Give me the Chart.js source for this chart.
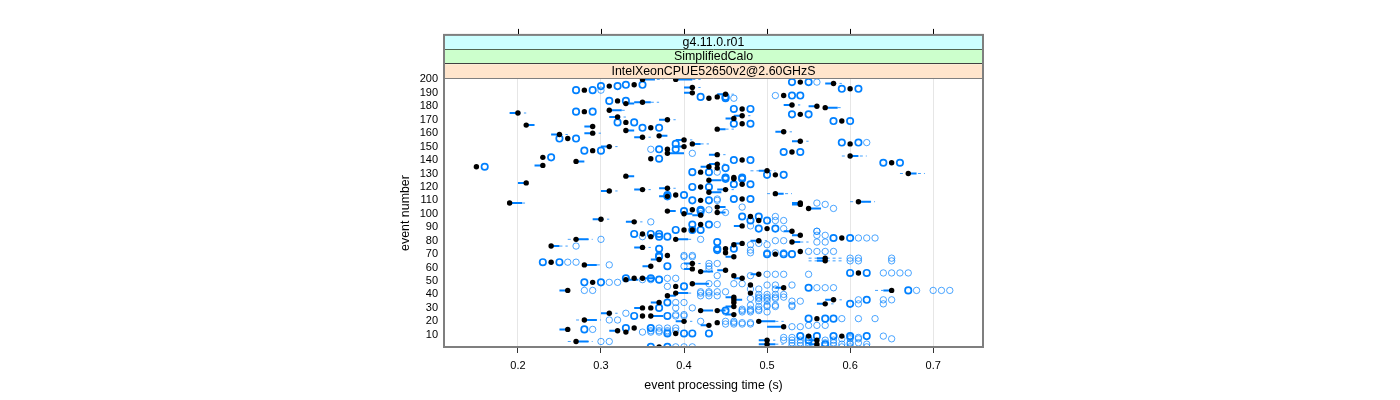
<!DOCTYPE html>
<html>
<head>
<meta charset="utf-8">
<title>event processing time</title>
<script src="https://cdn.jsdelivr.net/npm/chart.js@4/dist/chart.umd.js"></script>
<style>
  html, body { margin: 0; padding: 0; background: #fff; }
  canvas { display: block; }
</style>
</head>
<body>
<canvas id="timeChart" width="1400" height="400"></canvas>
<script>
// Strip labels, top to bottom
const stripLabels = ['g4.11.0.r01', 'SimplifiedCalo', 'IntelXeonCPUE52650v2@2.60GHzS'];
const xTicks = [0.2, 0.3, 0.4, 0.5, 0.6, 0.7];

// [event, median]
const medians = [
  [200,.35],[200,.39],[198,.54],[197,.58],[196,.34],[195,.31],[194,.41],[193,.60],[192,.28],[190,.41],
  [189,.45],[188,.52],[187,.44],[186,.43],[184,.32],[183,.35],[182,.33],[181,.53],[180,.56],[179,.57],
  [178,.47],[177,.31],[176,.28],[175,.20],[174,.54],[173,.47],[172,.32],[171,.46],[170,.38],[169,.59],
  [168,.33],[167,.47],[166,.21],[165,.29],[164,.36],[163,.44],[162,.33],[161,.52],[160,.29],[159,.25],
  [158,.37],[157,.35],[156,.26],[155,.40],[154,.54],[152,.60],[152,.41],[150,.31],[150,.40],[148,.38],
  [147,.29],[146,.53],[145,.38],[144,.44],[143,.60],[142,.23],[141,.36],[140,.47],[139,.27],[138,.65],
  [137,.44],[136,.23],[135,.15],[135,.43],[134,.44],[132,.50],[131,.42],[130,.67],[129,.51],[128,.33],
  [127,.46],[126,.46],[125,.43],[123,.21],[122,.47],[120,.42],[119,.38],[118,.35],[118,.45],[117,.31],
  [116,.43],[115,.51],[114,.39],[113,.38],[111,.47],[110,.42],[109,.61],[108,.19],[108,.54],[107,.54],
  [105,.44],[104,.55],[103,.41],[102,.38],[101,.44],[100,.40],[99,.42],[98,.48],[96,.30],[95,.49],
  [94,.34],[92,.42],[91,.47],[89,.50],[88,.41],[88,.40],[87,.53],[85,.35],[84,.54],[83,.36],
  [82,.59],[81,.27],[81,.39],[80,.49],[79,.53],[78,.47],[77,.46],[76,.24],[75,.35],[74,.45],
  [72,.54],[71,.45],[70,.51],[69,.38],[68,.46],[67,.57],[66,.37],[65,.57],[64,.24],[63,.41],
  [62,.28],[61,.36],[59,.41],[58,.45],[57,.42],[56,.61],[55,.49],[54,.46],[52,.34],[52,.35],
  [52,.47],[51,.33],[49,.29],[48,.41],[47,.48],[46,.39],[45,.52],[43,.26],[43,.65],[41,.39],
  [41,.48],[39,.38],[38,.46],[36,.46],[36,.58],[34,.46],[34,.37],[33,.57],[31,.46],[30,.35],
  [30,.36],[28,.42],[28,.44],[26,.31],[25,.46],[24,.35],[24,.36],[22,.56],[21,.28],[20,.40],
  [20,.49],[19,.44],[17,.43],[16,.52],[15,.34],[14,.26],[13,.32],[12,.33],[11,.39],[9,.55],
  [9,.59],[6,.50],[6,.56],[5,.27],[3,.50],[3,.56],[1,.56],[1,.37]
];

// [event, box low, box high]
const boxes = [
  [200,.35,.365],[200,.39,.41],[197,.57,.58],[194,.40,.41],[190,.40,.41],[189,.44,.45],[183,.34,.36],[182,.33,.34],
  [181,.52,.53],[180,.55,.56],[179,.57,.585],[177,.31,.325],[175,.19,.20],[173,.46,.47],[172,.31,.32],[171,.45,.46],
  [170,.37,.38],[166,.21,.22],[165,.28,.29],[163,.44,.45],[162,.33,.34],[161,.51,.52],[160,.28,.29],[159,.24,.25],
  [158,.37,.38],[157,.34,.35],[155,.39,.40],[154,.53,.54],[152,.41,.42],[150,.30,.31],[150,.39,.40],[145,.38,.40],
  [144,.43,.44],[143,.60,.61],[139,.27,.28],[137,.43,.44],[136,.22,.23],[135,.42,.43],[132,.49,.50],[130,.67,.68],
  [128,.33,.34],[125,.43,.445],[123,.20,.21],[119,.37,.38],[118,.34,.35],[118,.44,.45],[117,.30,.31],[116,.43,.445],
  [115,.51,.52],[113,.37,.38],[109,.61,.625],[108,.19,.205],[108,.53,.54],[107,.53,.54],[105,.44,.45],[104,.55,.565],
  [102,.38,.39],[101,.44,.45],[100,.40,.41],[99,.41,.42],[96,.29,.30],[94,.33,.34],[91,.46,.47],[87,.52,.53],
  [84,.53,.54],[81,.27,.285],[81,.39,.405],[80,.48,.49],[79,.53,.54],[78,.46,.47],[76,.24,.25],[75,.34,.35],
  [68,.45,.46],[67,.56,.57],[66,.36,.37],[65,.56,.57],[63,.40,.41],[62,.28,.295],[61,.35,.36],[59,.40,.41],
  [58,.44,.45],[57,.42,.435],[55,.48,.49],[52,.35,.365],[52,.46,.47],[51,.33,.345],[48,.41,.43],[45,.51,.52],
  [43,.25,.26],[43,.64,.65],[41,.39,.405],[39,.38,.39],[38,.45,.46],[36,.46,.47],[36,.57,.58],[34,.36,.37],
  [33,.56,.57],[31,.45,.46],[30,.34,.35],[28,.42,.435],[28,.44,.45],[26,.30,.31],[25,.45,.46],[24,.36,.375],
  [21,.28,.295],[20,.39,.40],[20,.49,.51],[17,.42,.43],[16,.50,.52],[14,.25,.26],[13,.31,.32],[6,.49,.50],
  [6,.55,.56],[5,.27,.285],[3,.49,.51],[3,.55,.56]
];

// [event, whisker low, whisker high]
const whiskers = [
  [200,.36,.375],[200,.41,.42],[197,.58,.59],[194,.41,.42],[189,.45,.46],[183,.36,.37],[181,.53,.54],[179,.585,.59],
  [177,.325,.33],[175,.20,.21],[173,.47,.48],[172,.32,.33],[170,.38,.39],[163,.45,.46],[161,.52,.53],[160,.29,.30],
  [159,.25,.26],[157,.35,.36],[155,.40,.41],[154,.54,.55],[152,.42,.43],[150,.31,.32],[144,.44,.45],[143,.59,.62],
  [137,.44,.45],[132,.48,.51],[130,.66,.69],[125,.445,.45],[119,.38,.39],[118,.35,.36],[118,.45,.46],[117,.31,.32],
  [115,.50,.53],[109,.60,.63],[108,.205,.21],[96,.30,.31],[94,.34,.35],[81,.26,.29],[81,.405,.41],[80,.49,.50],
  [79,.54,.55],[76,.25,.26],[75,.35,.36],[67,.55,.59],[65,.55,.59],[63,.41,.42],[62,.295,.30],[41,.405,.41],
  [36,.58,.59],[33,.57,.58],[26,.31,.32],[21,.27,.30],[20,.40,.41],[20,.51,.52],[5,.26,.29],[6,.50,.51],
  [3,.51,.52],[43,.63,.64]
];

// [event, ...times] outliers that repeat, so they look solid
const solidOutliers = [
  [198,.53,.55],[196,.33,.35],[195,.30,.32],[193,.59,.61],[192,.27,.29],[188,.53,.54],[187,.42,.45],[186,.45],
  [184,.31,.33],[178,.46,.48],[176,.27,.29],[174,.53,.55],[169,.58,.60],[168,.32,.34],[167,.46,.48],[164,.35,.37],
  [156,.25,.27],[153,.59,.61],[152,.39],[148,.37,.39],[147,.28,.30],[146,.52,.54],[142,.24],[141,.37],
  [140,.46,.48],[138,.64,.66],[135,.16],[134,.45],[131,.41,.43],[129,.50,.52],[127,.45,.47],[126,.45,.47],[122,.46,.48],
  [120,.41,.43],[114,.38,.40],[113,.38],[111,.46,.48],[110,.41,.43],[103,.42],[102,.40,.42],[98,.47,.49],
  [95,.48,.50],[92,.41,.43],[89,.49,.51],[88,.39,.41,.42],[85,.34,.36,.37],[83,.37,.38],[82,.58,.60],[79,.44],
  [74,.44,.46],[74,.37],[73,.44],[70,.50,.52,.53],[69,.37],[68,.37],[64,.23,.25],[61,.38],
  [56,.60,.62],[52,.33,.36],[51,.37],[49,.28,.30],[46,.40],[45,.55],[43,.67],[36,.62],
  [33,.60],[34,.38],[30,.37],[28,.45],[24,.34,.38],[22,.55,.57,.58],[15,.33,.36],[14,.28],
  [11,.38,.40,.41,.43],[9,.54,.56,.58,.60],[9,.62],[6,.55],[1,.36,.38],[3,.57]
];

// [event, ...times] single outliers, drawn lighter
const lightOutliers = [
  [198,.56],[192,.30],[188,.51],[186,.46],[153,.62],[148,.36],[145,.41],[131,.44],[111,.44],[110,.44],
  [108,.56],[107,.57],[105,.47],[104,.58],[103,.43],[101,.45],[100,.42],[98,.51],[95,.51,.52],[94,.36],
  [92,.44],[91,.48],[89,.52],[87,.56],[87,.56],[84,.56,.57],[83,.35],[82,.61,.62,.63],[81,.30],[81,.42],
  [80,.51,.52],[79,.56,.57],[78,.49],[77,.48,.50],[76,.27],[73,.48],[72,.55,.56,.57,.58],[71,.50,.51,.52],[71,.48],[69,.40,.41],
  [68,.40,.41],[67,.60,.61,.65],[65,.60,.61,.65],[64,.26,.27],[63,.43,.44],[62,.31],[61,.40,.43],[59,.43],[56,.64,.65,.66,.67],[55,.50,.51,.52,.55],
  [54,.44,.48],[52,.38,.39],[51,.35,.36,.37],[49,.31,.32],[48,.43,.44,.46,.47],[47,.50,.51,.53],[46,.38],[45,.56,.57,.58],[44,.48,.49,.51],[43,.68,.70,.71,.72],
  [43,.28,.29],[42,.42,.43,.44,.45],[41,.42,.43],[40,.49,.50,.51,.52],[39,.42,.43,.44],[38,.49,.50,.51,.52],[37,.48,.49,.50,.51],[36,.61,.64,.65],[35,.49,.50,.53,.54],[34,.39,.40],
  [33,.61,.64],[32,.48,.50,.51,.53],[31,.49,.50,.51,.53],[30,.39,.41],[29,.47,.48,.49],[28,.47,.48,.49],[27,.45,.47,.48,.50],[26,.33],[25,.39,.40],[24,.39,.40],
  [22,.59,.61,.63],[21,.31,.32],[20,.42,.45,.46],[19,.46,.47,.48],[18,.45,.46,.47,.48],[17,.55,.56,.57],[16,.53,.54],[15,.37,.38,.39],[14,.29],[13,.36,.37,.38,.39],
  [12,.35,.36,.37,.38],[9,.64],[8,.52,.53,.55,.60,.61],[7,.59,.60,.61,.65],[6,.52,.53,.54,.57,.58],[5,.30,.31],[4,.53,.54,.55,.57,.58,.60,.61],[3,.59,.60,.62],[2,.53,.54,.55,.57,.58],[1,.39,.40,.41,.59,.60,.62]
];

function spanPoints(spans) {
  const pts = [];
  spans.forEach(function (s) {
    pts.push({ x: s[1], y: s[0] }, { x: s[2], y: s[0] }, { x: null, y: null });
  });
  return pts;
}

function outlierPoints(rows) {
  const pts = [];
  rows.forEach(function (r) {
    r.slice(1).forEach(function (t) { pts.push({ x: t, y: r[0] }); });
  });
  return pts;
}

const font = '"Liberation Sans", Arial, sans-serif';
const stripColors = ['#ccffff', '#ccffcc', '#ffe5cc'];
const stripLines = ['#000', '#404040', '#7f7f7f'];

// lattice style strips, top ticks and the gray panel frame
const panelPlugin = {
  id: 'panel',
  afterDraw(chart) {
    const ctx = chart.ctx;
    const area = chart.chartArea;
    const stripH = 14.7;
    const stripsTop = area.top - stripH * 3;
    ctx.save();
    stripLabels.forEach(function (label, i) {
      const y = stripsTop + i * stripH;
      ctx.fillStyle = stripColors[i];
      ctx.fillRect(area.left, y, area.width, stripH);
      ctx.strokeStyle = stripLines[i];
      ctx.lineWidth = 1;
      ctx.beginPath();
      ctx.moveTo(area.left, Math.round(y + stripH) - 0.5);
      ctx.lineTo(area.right, Math.round(y + stripH) - 0.5);
      ctx.stroke();
      ctx.fillStyle = '#000';
      ctx.font = '12.4px ' + font;
      ctx.textAlign = 'center';
      ctx.textBaseline = 'middle';
      ctx.fillText(label, (area.left + area.right) / 2, y + stripH / 2);
    });
    ctx.strokeStyle = '#000';
    xTicks.forEach(function (t) {
      const x = Math.round(chart.scales.x.getPixelForValue(t)) + 0.5;
      ctx.beginPath();
      ctx.moveTo(x, stripsTop - 6);
      ctx.lineTo(x, stripsTop);
      ctx.stroke();
    });
    ctx.strokeStyle = '#7f7f7f';
    ctx.lineWidth = 2;
    ctx.strokeRect(area.left, stripsTop, area.width, area.bottom - stripsTop);
    ctx.restore();
  }
};

const timeChart = new Chart(document.getElementById('timeChart'), {
  type: 'scatter',
  plugins: [panelPlugin],
  data: {
    datasets: [
      { label: 'median', order: 1, data: medians.map(function (m) { return { x: m[1], y: m[0] }; }),
        pointRadius: 2.7, pointBackgroundColor: '#000', pointBorderWidth: 0 },
      { label: 'outliers', order: 2, data: outlierPoints(solidOutliers),
        pointRadius: 3.2, pointBackgroundColor: 'transparent', pointBorderColor: '#0080ff', pointBorderWidth: 1.7 },
      { label: 'single outliers', order: 3, data: outlierPoints(lightOutliers),
        pointRadius: 3.2, pointBackgroundColor: 'transparent', pointBorderColor: 'rgba(0,128,255,0.7)', pointBorderWidth: 1 },
      { label: 'box', order: 4, data: spanPoints(boxes), showLine: true, pointRadius: 0,
        borderColor: '#0080ff', borderWidth: 2, spanGaps: false },
      { label: 'whisker', order: 5, data: spanPoints(whiskers), showLine: true, pointRadius: 0,
        borderColor: 'rgba(0,128,255,0.75)', borderWidth: 1, borderDash: [3, 3], spanGaps: false }
    ]
  },
  options: {
    responsive: false,
    animation: false,
    layout: { padding: { left: 398, right: 417, top: 79, bottom: 0 } },
    plugins: { legend: { display: false }, tooltip: { enabled: false } },
    scales: {
      x: {
        min: 0.111,
        max: 0.76,
        afterFit(scale) { scale.height = 53; },
        border: { display: false },
        grid: { color: '#e6e6e6', tickColor: '#333', tickLength: 6 },
        ticks: {
          stepSize: 0.1,
          includeBounds: false,
          maxRotation: 0,
          padding: 6,
          color: '#000',
          font: { family: font, size: 11 },
          callback: function (v) { return xTicks.some(function (t) { return Math.abs(t - v) < 1e-6; }) ? v.toFixed(1) : null; }
        },
        title: { display: true, text: 'event processing time (s)', color: '#000', font: { family: font, size: 12.4 }, padding: { top: 4, bottom: 7 } }
      },
      y: {
        min: 0.9,
        max: 200.3,
        afterFit(scale) { scale.width = 46; },
        border: { display: false },
        grid: { display: false, drawTicks: false },
        ticks: {
          stepSize: 10,
          includeBounds: false,
          padding: 6,
          color: '#000',
          autoSkip: false,
          font: { family: font, size: 11 }
        },
        title: { display: true, text: 'event number', color: '#000', font: { family: font, size: 12.4 }, padding: { top: 0, bottom: 0 } }
      }
    }
  }
});
</script>
</body>
</html>
